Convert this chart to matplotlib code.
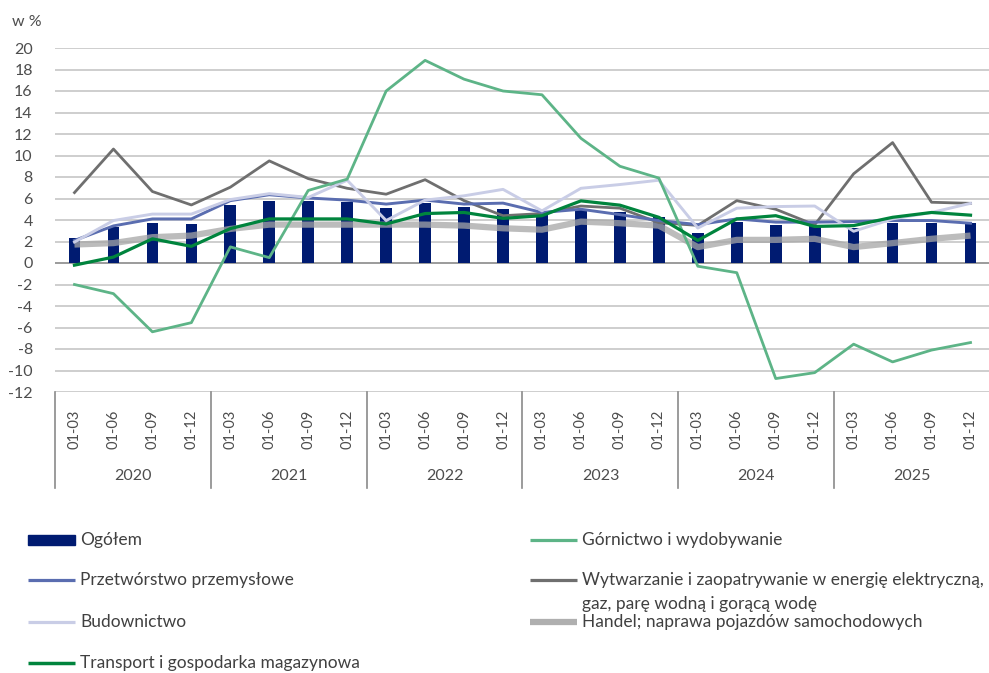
import matplotlib
matplotlib.use("Agg")
import matplotlib.pyplot as plt
from matplotlib.lines import Line2D
from matplotlib.patches import Rectangle
import matplotlib.transforms as mtransforms

plt.rcParams["font.family"] = ["Lato", "DejaVu Sans"]

years = ["2020", "2021", "2022", "2023", "2024", "2025"]
months = ["01-03", "01-06", "01-09", "01-12"]

ogolem = [2.35, 3.35, 3.7, 3.6, 5.35, 5.8, 5.8, 5.65, 5.1, 5.55, 5.25, 5.0,
          4.55, 4.9, 4.7, 4.25, 2.8, 3.85, 3.5, 3.4, 3.3, 3.75, 3.75, 3.7]
gornictwo = [-2.0, -2.85, -6.4, -5.55, 1.5, 0.5, 6.75, 7.8, 16.0, 18.85, 17.1, 16.0,
             15.65, 11.6, 9.0, 7.9, -0.3, -0.9, -10.75, -10.2, -7.55, -9.2, -8.1, -7.4]
przetworstwo = [2.1, 3.45, 4.1, 4.1, 5.8, 6.35, 6.05, 5.85, 5.48, 5.85, 5.48, 5.57,
                4.7, 5.0, 4.5, 3.95, 3.57, 4.1, 3.8, 3.8, 3.85, 3.95, 3.95, 3.7]
wytwarzanie = [6.55, 10.6, 6.65, 5.4, 7.05, 9.5, 7.85, 6.95, 6.4, 7.75, 5.8, 4.4,
               4.6, 5.3, 5.1, 3.75, 3.5, 5.8, 5.0, 3.55, 8.3, 11.2, 5.65, 5.55]
budownictwo = [1.95, 3.95, 4.55, 4.55, 5.9, 6.45, 6.1, 7.7, 3.95, 5.85, 6.25, 6.85,
               4.85, 6.95, 7.3, 7.7, 3.25, 5.1, 5.25, 5.3, 2.95, 4.1, 4.7, 5.55]
handel = [1.72, 1.85, 2.4, 2.55, 3.17, 3.57, 3.57, 3.57, 3.57, 3.57, 3.48, 3.23,
          3.1, 3.85, 3.7, 3.48, 1.48, 2.15, 2.15, 2.25, 1.48, 1.85, 2.25, 2.55]
transport = [-0.2, 0.55, 2.25, 1.55, 3.2, 4.1, 4.1, 4.1, 3.63, 4.6, 4.7, 4.15,
             4.4, 5.78, 5.38, 4.25, 2.1, 4.1, 4.4, 3.4, 3.48, 4.25, 4.7, 4.45]

labels = {
    "ogolem": "Ogółem",
    "gornictwo": "Górnictwo i wydobywanie",
    "przetworstwo": "Przetwórstwo przemysłowe",
    "wytwarzanie": "Wytwarzanie i zaopatrywanie w energię elektryczną,\ngaz, parę wodną i gorącą wodę",
    "budownictwo": "Budownictwo",
    "handel": "Handel; naprawa pojazdów samochodowych",
    "transport": "Transport i gospodarka magazynowa",
}

W, H = 989, 673
fig = plt.figure(figsize=(W / 100, H / 100), dpi=100)


def fx(px):
    return px / W


def fy(py):
    return 1 - py / H


ax_left, ax_right, ax_top, ax_bot = 55, 990, 48, 392
ax = fig.add_axes([fx(ax_left), fy(ax_bot), fx(ax_right - ax_left), (ax_bot - ax_top) / H])

n = len(ogolem)
x = list(range(n))

ax.set_xlim(-0.5, n - 0.5)
ax.set_ylim(-12, 20)
ax.set_yticks(range(-12, 21, 2))
for v in range(-12, 21, 2):
    if v != 0:
        ax.axhline(v, color="#c6c6c6", lw=1.2, zorder=0)
ax.axhline(0, color="#8a8a8a", lw=1.2, zorder=1)

ax.bar(x, ogolem, width=0.3, color="#001b71", zorder=2)

ax.plot(x, handel, color="#a6a6a6", lw=4.5, alpha=0.75, zorder=3, solid_capstyle="butt")
ax.plot(x, wytwarzanie, color="#6f6f6f", lw=2.0, zorder=4)
ax.plot(x, budownictwo, color="#c9cde6", lw=2.1, zorder=5)
ax.plot(x, przetworstwo, color="#5a6db0", lw=2.1, zorder=4)
ax.plot(x, gornictwo, color="#5db487", lw=2.0, zorder=6)
ax.plot(x, transport, color="#00843d", lw=2.3, zorder=7)

for s in ax.spines.values():
    s.set_visible(False)
ax.tick_params(axis="y", length=0, pad=16, labelsize=11.5, labelcolor="#4d4d4d")
ax.set_yticklabels([str(v) for v in range(-12, 21, 2)])

ax.set_xticks(x)
ax.set_xticklabels(months * len(years), rotation=90, fontsize=10.5, color="#4d4d4d")
ax.tick_params(axis="x", length=0, pad=13)

# year separators and labels below the axis
trans = mtransforms.blended_transform_factory(ax.transData, ax.transAxes)
sep_depth = (488 - ax_bot) / (ax_bot - ax_top)
for k in range(len(years) + 1):
    xb = k * len(months) - 0.5
    ax.plot([xb, xb], [0, -sep_depth], transform=trans, color="#8a8a8a", lw=1.2,
            clip_on=False)
year_y = -(476 - ax_bot) / (ax_bot - ax_top)
for k, yr in enumerate(years):
    ax.text(k * len(months) + 1.5, year_y, yr, transform=trans, ha="center", va="center",
            fontsize=11.5, color="#4d4d4d")

fig.text(fx(12), fy(22), "w %", ha="left", va="center", fontsize=11.5, color="#4d4d4d")


# legend, laid out as in the reference (two columns)
def leg_line(x0, y, color, lw, alpha=1.0):
    fig.add_artist(Line2D([fx(x0), fx(x0 + 47)], [fy(y), fy(y)], color=color, lw=lw,
                          alpha=alpha, solid_capstyle="butt"))


def leg_text(x0, y, s):
    for j, line in enumerate(s.split("\n")):
        fig.text(fx(x0), fy(y + 24 * j), line, ha="left", va="center", fontsize=12.5,
                 color="#404040")


fig.add_artist(Rectangle((fx(28), fy(545)), fx(47), 10 / H, color="#001b71"))
leg_text(80, 540, labels["ogolem"])
leg_line(28, 580, "#5a6db0", 2.3)
leg_text(80, 580, labels["przetworstwo"])
leg_line(28, 622, "#c9cde6", 2.3)
leg_text(80, 622, labels["budownictwo"])
leg_line(28, 663, "#00843d", 2.5)
leg_text(80, 663, labels["transport"])

leg_line(530, 540, "#5db487", 2.3)
leg_text(582, 540, labels["gornictwo"])
leg_line(530, 580, "#6f6f6f", 2.3)
leg_text(582, 580, labels["wytwarzanie"])
leg_line(530, 622, "#a6a6a6", 4.5, 0.9)
leg_text(582, 622, labels["handel"])

fig.savefig("out.png", dpi=100, facecolor="white")
